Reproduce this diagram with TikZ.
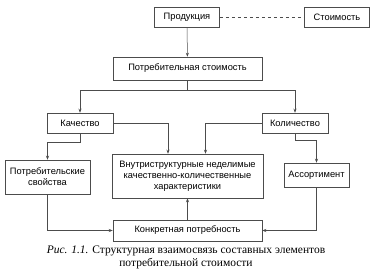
\documentclass[tikz,border=0pt]{standalone}
\usepackage{fontspec}
\setmainfont{Liberation Serif}
\newfontfamily\boxfont{Liberation Sans}
\usetikzlibrary{arrows.meta}

\begin{document}
\begin{tikzpicture}[x=1pt,y=-1pt,
  box/.style={draw=black!70,line width=0.5pt,inner sep=1pt,align=center,font=\boxfont\fontsize{9.3}{11}\selectfont},
  link/.style={draw=black!70,line width=0.5pt},
  >={Stealth[length=4pt,width=3pt]}]
\useasboundingbox (0,0) rectangle (378,280);
\node[box,minimum width=65pt,minimum height=20pt] (prod) at (187,17) {Продукция};
\node[box,minimum width=65pt,minimum height=20pt] (stoim) at (337,17) {Стоимость};
\node[box,minimum width=149pt,minimum height=23pt] (potr) at (187.5,68.5) {Потребительная стоимость};
\node[box,minimum width=66pt,minimum height=20pt] (kach) at (80,123) {Качество};
\node[box,minimum width=66pt,minimum height=20pt] (kol) at (295,123) {Количество};
\node[box,minimum width=151pt,minimum height=44pt] (vnutr) at (187.5,176) {Внутриструктурные неделимые\\качественно-количественные\\характеристики};
\node[box,minimum width=85pt,minimum height=34pt] (svoi) at (47.5,177) {Потребительские\\свойства};
\node[box,minimum width=65pt,minimum height=24pt] (assort) at (316.5,175) {Ассортимент};
\node[box,minimum width=149pt,minimum height=21pt] (konkr) at (187.5,230.5) {Конкретная потребность};
\coordinate (split) at (187.5,90);
\node[align=center,font=\fontsize{11.5}{13}\selectfont] (cap) at (186,257.5) {\textit{Рис. 1.1.} Структурная взаимосвязь составных элементов\\потребительной стоимости};
\draw[link,->] (prod) -- (potr);
\draw[link,dashed] (prod) -- (stoim);
\draw[link] (potr) -- (split);
\draw[link,->] (split) -| (kach);
\draw[link,->] (split) -| (kol);
\draw[link,->] (kach) -| ([xshift=-19.5pt]vnutr.north);
\draw[link,->] (kol) -| ([xshift=18pt]vnutr.north);
\draw[link,->] (kach.south) -- ++(0,9) -| (svoi);
\draw[link,->] (kol.south) -- ++(0,7) -| (assort);
\draw[link,->] (konkr) -- (vnutr);
\draw[link,->] (svoi) |- (konkr);
\draw[link,->] (assort) |- (konkr);
\end{tikzpicture}
\end{document}
